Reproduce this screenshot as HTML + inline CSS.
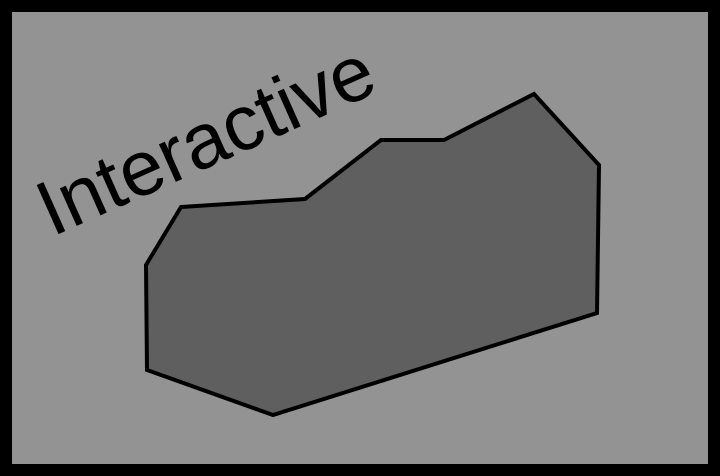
<!DOCTYPE html>
<html><head><meta charset="utf-8"><style>
html,body{margin:0;padding:0;width:720px;height:476px;overflow:hidden;background:#000}
</style></head><body>
<svg width="720" height="476" viewBox="0 0 720 476">
<rect x="0" y="0" width="720" height="476" fill="#000"/>
<rect x="12" y="12" width="696" height="452" fill="#939393"/>
<polygon points="181,207 305,199 381,140 444,140 534,94 599,165 597,313 273,415 147,370 146,265" fill="#5f5f5f" stroke="#000" stroke-width="4" stroke-linejoin="miter"/>
<text x="0" y="0" transform="translate(52,237) rotate(-24)" font-family="Liberation Sans, Arial, sans-serif" font-size="78" fill="#000">Interactive</text>
</svg>
</body></html>
